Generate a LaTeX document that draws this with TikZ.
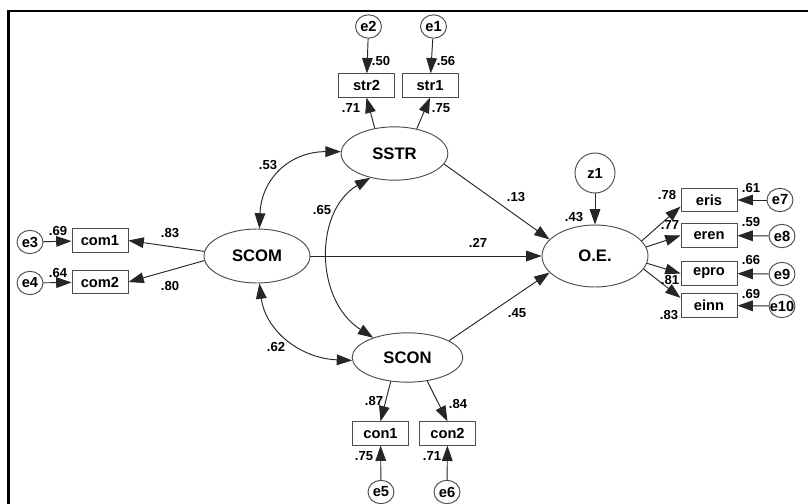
\documentclass[tikz,border=0pt]{standalone}
\usepackage{fontspec}
\setmainfont{Liberation Sans}
\usetikzlibrary{arrows.meta,shapes.geometric}
\begin{document}
\begin{tikzpicture}[x=0.75pt,y=-0.75pt,
  line width=0.7pt, draw=black!85,
  arr/.style={-{Triangle[length=11.5pt,width=8pt]}},
  dbl/.style={{Triangle[length=11.5pt,width=8pt]}-{Triangle[length=11.5pt,width=8pt]}},
  lat/.style={draw=black!70,ellipse,minimum width=80pt,minimum height=40pt,inner sep=0pt,font=\fontsize{12.5}{14}\selectfont\bfseries},
  obs/.style={draw=black!70,rectangle,minimum width=42pt,minimum height=17.5pt,inner sep=0pt,font=\fontsize{11}{13}\selectfont\bfseries},
  err/.style={draw=black!70,ellipse,minimum width=19.5pt,minimum height=17.5pt,inner sep=0pt,font=\fontsize{11}{13}\selectfont\bfseries},
  lbl/.style={inner sep=0pt,font=\fontsize{9.8}{11}\selectfont\bfseries}]
\useasboundingbox (0,0) rectangle (808,504);
\fill[white] (0,0) rectangle (808,504);
% frame
\draw[line width=2pt,black] (8.5,504) -- (8.5,11) -- (808,11);

% latent variables
\node[lat] (SSTR) at (394.5,153.5) {SSTR};
\node[lat,minimum width=79.5pt,minimum height=40.5pt] (SCOM) at (257,256) {SCOM};
\node[lat,minimum width=83pt,minimum height=37pt] (SCON) at (407.5,357.5) {SCON};
\node[lat,minimum width=79.5pt,minimum height=46.5pt] (OE) at (595,256) {O.E.};

% observed
\node[obs] (str2) at (366.5,85.5) {str2};
\node[obs] (str1) at (430,85.5) {str1};
\node[obs] (com1) at (100,240.5) {com1};
\node[obs] (com2) at (100,282) {com2};
\node[obs] (con1) at (380.5,433.5) {con1};
\node[obs] (con2) at (447.5,433.5) {con2};
\node[obs] (eris) at (709,200) {eris};
\node[obs] (eren) at (709,235.5) {eren};
\node[obs] (epro) at (709,273.5) {epro};
\node[obs] (einn) at (709,305.5) {einn};

% errors
\node[err] (e2) at (368.5,26.5) {e2};
\node[err] (e1) at (433.5,26.5) {e1};
\node[err] (e3) at (30,242) {e3};
\node[err] (e4) at (30,283) {e4};
\node[err] (e5) at (381,492) {e5};
\node[err] (e6) at (447,492) {e6};
\node[err] (e7) at (780,200) {e7};
\node[err] (e8) at (782,236) {e8};
\node[err] (e9) at (782,274) {e9};
\node[err] (e10) at (782,306) {\makebox[0pt]{e10}};
\node[err,minimum width=30pt,minimum height=30pt] (z1) at (595,173) {z1};

% error arrows
\draw[arr] (e2) -- (str2);
\draw[arr] (e1) -- (str1);
\draw[arr] (e3) -- (com1);
\draw[arr] (e4) -- (com2);
\draw[arr] (e5) -- (con1);
\draw[arr] (e6) -- (con2);
\draw[arr] (e7) -- (eris);
\draw[arr] (e8) -- (eren);
\draw[arr] (e9) -- (epro);
\draw[arr] (e10) -- (einn);
\draw[arr] (z1) -- (OE);

% loadings
\draw[arr] (SSTR.128) -- (str2.south);
\draw[arr] (SSTR.48) -- (str1.south);
\draw[arr] (SCOM.175) -- (com1.east);
\draw[arr] (SCOM.185) -- (com2.east);
\draw[arr] (SCON.235) -- (con1.north);
\draw[arr] (SCON.-50) -- (con2.north);
\draw[arr] (OE.18) -- (eris.193);
\draw[arr] (OE.10) -- (eren.west);
\draw[arr] (OE.-8) -- (epro.west);
\draw[arr] (OE.-15) -- (einn.165);

% structural paths
\draw[arr] (SSTR.-12) -- (OE.160);
\draw[arr] (SCOM.east) -- (OE.west);
\draw[arr] (SCON.22) -- (OE.200);

% covariances
\draw[dbl] (SCOM.85) .. controls +(2,-50) and +(-51,0) .. (SSTR.178);
\draw[dbl] (SSTR.225) .. controls +(-56,33) and +(-59,-38) .. (SCON.150);
\draw[dbl] (SCOM.-85) .. controls +(6,47) and +(-52,-2) .. (SCON.183);

% labels
\node[lbl] (l1) at (381,61) {.50};
\node[lbl] (l2) at (446,61) {.56};
\node[lbl] (l3) at (351,108) {.71};
\node[lbl] (l4) at (441,108) {.75};
\node[lbl] (l5) at (268,165) {.53};
\node[lbl] (l6) at (322,210) {.65};
\node[lbl] (l7) at (276,347) {.62};
\node[lbl] (l8) at (516,197) {.13};
\node[lbl] (l9) at (478,243) {.27};
\node[lbl] (l10) at (517,313) {.45};
\node[lbl] (l11) at (170,233) {.83};
\node[lbl] (l12) at (170,286) {.80};
\node[lbl] (l13) at (58,231) {.69};
\node[lbl] (l14) at (58,273) {.64};
\node[lbl] (l15) at (374,401) {.87};
\node[lbl] (l16) at (458,404) {.84};
\node[lbl] (l17) at (364,456) {.75};
\node[lbl] (l18) at (432,456) {.71};
\node[lbl] (l19) at (574,217) {.43};
\node[lbl] (l20) at (667,195) {.78};
\node[lbl] (l21) at (670,225) {.77};
\node[lbl] (l22) at (670,280) {.81};
\node[lbl] (l23) at (669,315) {.83};
\node[lbl] (l24) at (751,188) {.61};
\node[lbl] (l25) at (751,222) {.59};
\node[lbl] (l26) at (751,260) {.66};
\node[lbl] (l27) at (751,294) {.69};
\end{tikzpicture}
\end{document}
